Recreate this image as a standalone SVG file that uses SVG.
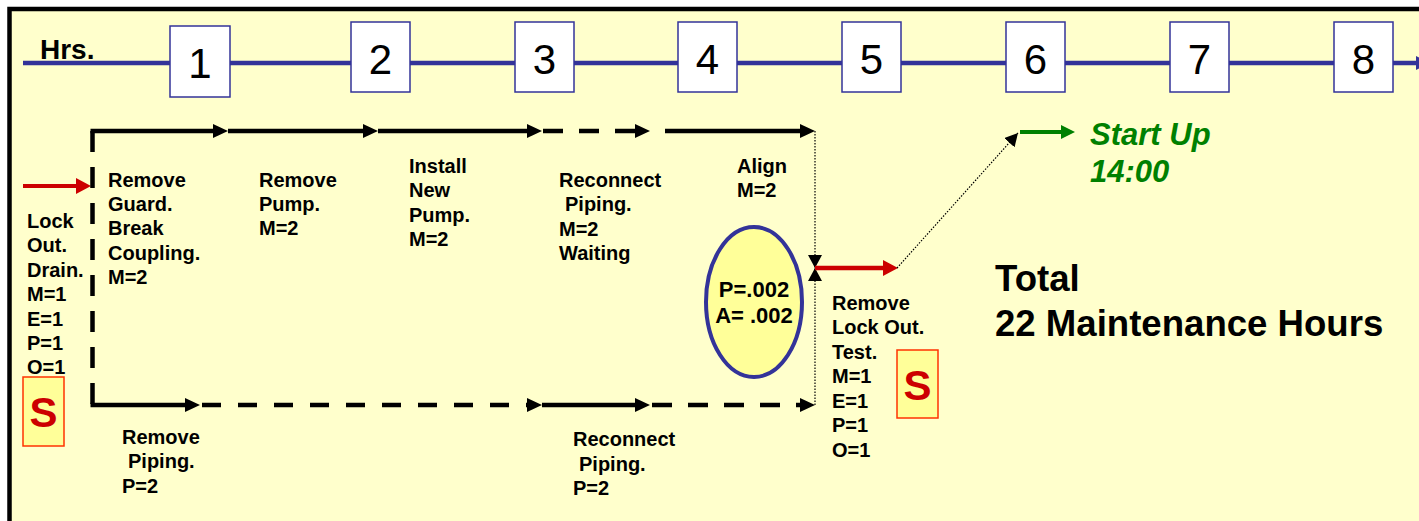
<svg xmlns="http://www.w3.org/2000/svg" width="1419" height="521" viewBox="0 0 1419 521">
  <style>
    .lbl { font-family: "Liberation Sans", Arial, sans-serif; font-weight: bold; font-size: 20px; fill: #000; }
    .num { font-family: "Liberation Sans", Arial, sans-serif; font-size: 42px; fill: #000; text-anchor: middle; }
    .hrbox { fill: #fff; stroke: #333399; stroke-width: 1.5; }
    .flow { fill: none; stroke: #000; stroke-width: 4.5; marker-end: url(#arrowBlack); }
    .dash { stroke-dasharray: 20 16; }
    .dot { fill: none; stroke: #000; stroke-width: 1.2; stroke-dasharray: 1.5 1.5; }
    .sbox { fill: #FFFF99; stroke: #FF3300; stroke-width: 1.5; }
    .s { font-family: "Liberation Sans", Arial, sans-serif; font-weight: bold; font-size: 42px; fill: #CC0000; text-anchor: middle; }
    .big { font-family: "Liberation Sans", Arial, sans-serif; font-weight: bold; font-size: 36.6px; fill: #000; }
    .green { font-family: "Liberation Sans", Arial, sans-serif; font-weight: bold; font-style: italic; font-size: 31px; fill: #008000; }
  </style>
  <defs>
    <marker id="arrowBlack" markerUnits="userSpaceOnUse" markerWidth="15" markerHeight="14" refX="7" refY="7" orient="auto">
      <path d="M0,0 L15,7 L0,14 z" fill="#000"/>
    </marker>
    <marker id="arrowRed" markerUnits="userSpaceOnUse" markerWidth="15" markerHeight="16" refX="7" refY="8" orient="auto">
      <path d="M0,0 L15,8 L0,16 z" fill="#CC0000"/>
    </marker>
    <marker id="arrowGreen" markerUnits="userSpaceOnUse" markerWidth="14" markerHeight="14" refX="7" refY="7" orient="auto">
      <path d="M0,0 L14,7 L0,14 z" fill="#008000"/>
    </marker>
    <marker id="arrowBlue" markerUnits="userSpaceOnUse" markerWidth="14" markerHeight="14" refX="7" refY="7" orient="auto">
      <path d="M0,0 L14,7 L0,14 z" fill="#333399"/>
    </marker>
    <marker id="tipSmall" markerUnits="userSpaceOnUse" markerWidth="14" markerHeight="14" refX="13" refY="7" orient="auto">
      <path d="M0,0 L13,7 L0,14 z" fill="#000"/>
    </marker>
  </defs>

  <!-- page frame -->
  <rect x="0" y="0" width="1419" height="521" fill="#fff"/>
  <rect x="9.5" y="9" width="1430" height="540" fill="#FFFFCC" stroke="#000" stroke-width="4.5"/>

  <!-- hour scale -->
  <g id="timeline">
    <line x1="23" y1="63" x2="1423" y2="63" stroke="#333399" stroke-width="4.5" marker-end="url(#arrowBlue)"/>
    <text x="40" y="59" class="lbl" style="font-size:28px">Hrs.</text>
  </g>
  <g id="hour1"><rect class="hrbox" x="170" y="26" width="60" height="71"/><text class="num" x="200" y="78">1</text></g>
  <g id="hour2"><rect class="hrbox" x="351" y="22" width="59" height="70"/><text class="num" x="380.5" y="74">2</text></g>
  <g id="hour3"><rect class="hrbox" x="515" y="22" width="59" height="70"/><text class="num" x="544.5" y="74">3</text></g>
  <g id="hour4"><rect class="hrbox" x="678" y="22" width="59" height="70"/><text class="num" x="707.5" y="74">4</text></g>
  <g id="hour5"><rect class="hrbox" x="842" y="22" width="59" height="70"/><text class="num" x="871.5" y="74">5</text></g>
  <g id="hour6"><rect class="hrbox" x="1006" y="22" width="59" height="70"/><text class="num" x="1035.5" y="74">6</text></g>
  <g id="hour7"><rect class="hrbox" x="1170" y="22" width="59" height="70"/><text class="num" x="1199.5" y="74">7</text></g>
  <g id="hour8"><rect class="hrbox" x="1334" y="22" width="59" height="70"/><text class="num" x="1363.5" y="74">8</text></g>

  <!-- connectors -->
  <g id="connectors">
    <line x1="23" y1="186" x2="83" y2="186" stroke="#CC0000" stroke-width="4" marker-end="url(#arrowRed)"/>
    <line x1="92.5" y1="131" x2="92.5" y2="405" stroke="#000" stroke-width="4.5" stroke-dasharray="21 15"/>
    <!-- upper path -->
    <path class="flow" d="M90.5,131 H220"/>
    <path class="flow" d="M228,131 H370"/>
    <path class="flow" d="M378,131 H534"/>
    <path class="flow dash" d="M543,131 H642"/>
    <path class="flow" d="M665,131 H807"/>
    <!-- lower path -->
    <path class="flow" d="M90.5,405 H192"/>
    <path class="flow" d="M202,405 H534" style="stroke-dasharray:19 17"/>
    <path class="flow" d="M542,405 H642"/>
    <path class="flow dash" d="M652,405 H807"/>
    <!-- join at x=815 -->
    <path class="dot" d="M815,131 V268" marker-end="url(#tipSmall)"/>
    <path class="dot" d="M815,405 V268" marker-end="url(#tipSmall)"/>
    <line x1="815" y1="268" x2="890" y2="268" stroke="#CC0000" stroke-width="4.5" marker-end="url(#arrowRed)"/>
    <path class="dot" d="M897,268 L1018,133" marker-end="url(#tipSmall)"/>
    <line x1="1020" y1="132" x2="1068" y2="132" stroke="#008000" stroke-width="4" marker-end="url(#arrowGreen)"/>
  </g>

  <!-- activities -->
  <g id="lockout">
    <text class="lbl" x="27" y="228">Lock</text>
    <text class="lbl" x="27" y="252">Out.</text>
    <text class="lbl" x="27" y="277">Drain.</text>
    <text class="lbl" x="27" y="301">M=1</text>
    <text class="lbl" x="27" y="326">E=1</text>
    <text class="lbl" x="27" y="350">P=1</text>
    <text class="lbl" x="27" y="374">O=1</text>
  </g>
  <g id="safety-start">
    <rect class="sbox" x="23" y="377" width="41" height="69"/>
    <text class="s" x="43.5" y="427">S</text>
  </g>
  <g id="remove-guard">
    <text class="lbl" x="108" y="187">Remove</text>
    <text class="lbl" x="108" y="211">Guard.</text>
    <text class="lbl" x="108" y="235">Break</text>
    <text class="lbl" x="108" y="260">Coupling.</text>
    <text class="lbl" x="108" y="284">M=2</text>
  </g>
  <g id="remove-pump">
    <text class="lbl" x="259" y="187">Remove</text>
    <text class="lbl" x="259" y="211">Pump.</text>
    <text class="lbl" x="259" y="235">M=2</text>
  </g>
  <g id="install-pump">
    <text class="lbl" x="409" y="173">Install</text>
    <text class="lbl" x="409" y="197">New</text>
    <text class="lbl" x="409" y="222">Pump.</text>
    <text class="lbl" x="409" y="246">M=2</text>
  </g>
  <g id="reconnect-upper">
    <text class="lbl" x="559" y="187">Reconnect</text>
    <text class="lbl" x="565" y="211">Piping.</text>
    <text class="lbl" x="559" y="236">M=2</text>
    <text class="lbl" x="559" y="260">Waiting</text>
  </g>
  <g id="align">
    <text class="lbl" x="737" y="173">Align</text>
    <text class="lbl" x="737" y="197">M=2</text>
  </g>
  <g id="probability">
    <ellipse cx="754" cy="302" rx="48" ry="75" fill="#FFFF99" stroke="#333399" stroke-width="4"/>
    <text class="lbl" x="754" y="297" text-anchor="middle" style="font-size:22px">P=.002</text>
    <text class="lbl" x="754" y="323" text-anchor="middle" style="font-size:22px">A= .002</text>
  </g>
  <g id="remove-piping">
    <text class="lbl" x="122" y="444">Remove</text>
    <text class="lbl" x="128" y="468">Piping.</text>
    <text class="lbl" x="122" y="493">P=2</text>
  </g>
  <g id="reconnect-lower">
    <text class="lbl" x="573" y="446">Reconnect</text>
    <text class="lbl" x="579" y="471">Piping.</text>
    <text class="lbl" x="573" y="495">P=2</text>
  </g>
  <g id="remove-lockout">
    <text class="lbl" x="832" y="310">Remove</text>
    <text class="lbl" x="832" y="334">Lock Out.</text>
    <text class="lbl" x="832" y="359">Test.</text>
    <text class="lbl" x="832" y="383">M=1</text>
    <text class="lbl" x="832" y="408">E=1</text>
    <text class="lbl" x="832" y="432">P=1</text>
    <text class="lbl" x="832" y="457">O=1</text>
  </g>
  <g id="safety-end">
    <rect class="sbox" x="897" y="350" width="41" height="68"/>
    <text class="s" x="917.5" y="400">S</text>
  </g>
  <g id="startup">
    <text class="green" x="1090" y="145">Start Up</text>
    <text class="green" x="1090" y="182">14:00</text>
  </g>
  <g id="total">
    <text class="big" x="995" y="291">Total</text>
    <text class="big" x="995" y="336">22 Maintenance Hours</text>
  </g>
</svg>
